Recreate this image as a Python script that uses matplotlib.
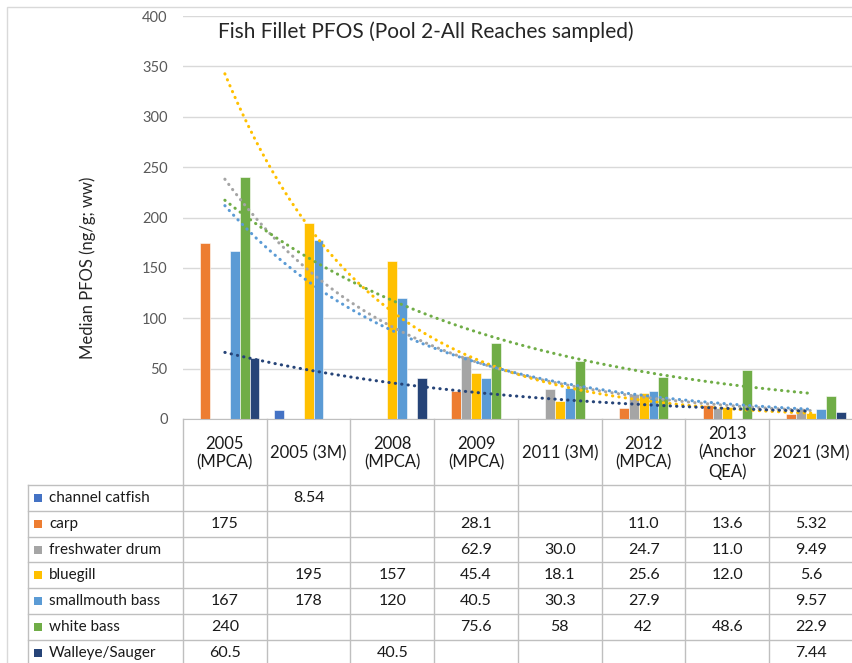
import numpy as np
import matplotlib

matplotlib.use("Agg")

import matplotlib.pyplot as plt
from matplotlib.lines import Line2D
from matplotlib.patches import Rectangle
from matplotlib.transforms import blended_transform_factory

plt.rcParams["font.family"] = ["Lato", "DejaVu Sans"]

# data (table values as printed in the chart)
categories = ["2005\n(MPCA)", "2005 (3M)", "2008\n(MPCA)", "2009\n(MPCA)",
              "2011 (3M)", "2012\n(MPCA)", "2013\n(Anchor\nQEA)", "2021 (3M)"]
species = ["channel catfish", "carp", "freshwater drum", "bluegill",
           "smallmouth bass", "white bass", "Walleye/Sauger"]
channel_catfish = ["", "8.54", "", "", "", "", "", ""]
carp = ["175", "", "", "28.1", "", "11.0", "13.6", "5.32"]
freshwater_drum = ["", "", "", "62.9", "30.0", "24.7", "11.0", "9.49"]
bluegill = ["", "195", "157", "45.4", "18.1", "25.6", "12.0", "5.6"]
smallmouth_bass = ["167", "178", "120", "40.5", "30.3", "27.9", "", "9.57"]
white_bass = ["240", "", "", "75.6", "58", "42", "48.6", "22.9"]
walleye_sauger = ["60.5", "", "40.5", "", "", "", "", "7.44"]
series = [channel_catfish, carp, freshwater_drum, bluegill,
          smallmouth_bass, white_bass, walleye_sauger]
has_trend = [False, False, True, True, True, True, True]
colors = ["#4472C4", "#ED7D31", "#A5A5A5", "#FFC000",
          "#5B9BD5", "#70AD47", "#264478"]

W, H = 853, 663
fig = plt.figure(figsize=(W / 100, H / 100), dpi=100)


def fx(px):
    return px / W


def fy(py):
    return 1 - py / H


ax = fig.add_axes([fx(183), fy(419), fx(853 - 183), (419 - 16) / H])
n_cat = len(categories)
n_ser = len(series)
bw = 1 / (n_ser + 1.5)
x = np.arange(n_cat)

for k, (vals, col) in enumerate(zip(series, colors)):
    v = np.array([float(s) if s else np.nan for s in vals])
    off = -0.5 + 0.75 * bw + (k + 0.5) * bw
    ax.bar(x + off, np.nan_to_num(v), width=bw, color=col,
           edgecolor="white", linewidth=0.4, zorder=2)

# exponential trendlines (Excel style, x = 1..n)
for k, (vals, col) in enumerate(zip(series, colors)):
    if not has_trend[k]:
        continue
    v = np.array([float(s) if s else np.nan for s in vals])
    m = ~np.isnan(v)
    b, a = np.polyfit(x[m] + 1, np.log(v[m]), 1)
    xs = np.linspace(0, n_cat - 1, 300)
    ax.plot(xs, np.exp(a + b * (xs + 1)), color=col, lw=2.2,
            linestyle=(0, (0.1, 2.0)), dash_capstyle="round", zorder=3)

ax.set_xlim(-0.5, n_cat - 0.5)
ax.set_ylim(0, 400)
ax.set_yticks(range(0, 401, 50))
ax.set_xticks([])
ax.tick_params(axis="y", length=0, pad=11, labelsize=10.5, labelcolor="#595959")
ax.yaxis.grid(True, color="#D9D9D9", lw=1)
ax.set_axisbelow(True)
for s in ["top", "right", "left"]:
    ax.spines[s].set_visible(False)
ax.spines["bottom"].set_color("#BFBFBF")

fig.text(fx(218), fy(32), "Fish Fillet PFOS (Pool 2-All Reaches sampled)",
         fontsize=15, color="#262626", va="center", ha="left")
fig.text(fx(88), fy(268), "Median PFOS (ng/g; ww)", rotation=90,
         fontsize=12, color="#262626", va="center", ha="center")

# outer chart border
fig.add_artist(Rectangle((fx(7), fy(700)), fx(860), (700 - 7) / H,
                         transform=fig.transFigure, fill=False,
                         ec="#D9D9D9", lw=1))

# data table
trans = blended_transform_factory(ax.transData, fig.transFigure)
line_c = "#BFBFBF"
top, head_bot, row_h = 419, 485, 25.8
bottom = 700

for b in np.arange(n_cat) + 0.5:
    fig.add_artist(Line2D([b, b], [fy(top), fy(bottom)], transform=trans,
                          color=line_c, lw=1))
for px in (28, 183):
    y0 = head_bot if px == 28 else top
    fig.add_artist(Line2D([fx(px), fx(px)], [fy(y0), fy(bottom)],
                          transform=fig.transFigure, color=line_c, lw=1))
for i in range(n_ser + 1):
    py = head_bot + i * row_h
    fig.add_artist(Line2D([fx(28), 1], [fy(py), fy(py)],
                          transform=fig.transFigure, color=line_c, lw=1))

for j, lab in enumerate(categories):
    fig.text(j, fy((top + head_bot) / 2 + 1), lab, transform=trans,
             ha="center", va="center", fontsize=12, color="#1a1a1a",
             linespacing=1.2)

for i, (name, vals, col) in enumerate(zip(species, series, colors)):
    cy = head_bot + (i + 0.5) * row_h
    fig.add_artist(Rectangle((fx(34), fy(cy + 4)), fx(8), 8 / H,
                             transform=fig.transFigure, color=col, lw=0))
    fig.text(fx(49), fy(cy), name, ha="left", va="center", fontsize=11,
             color="#1a1a1a")
    for j, s in enumerate(vals):
        if s:
            fig.text(j, fy(cy), s, transform=trans, ha="center", va="center",
                     fontsize=11.5, color="#1a1a1a")

fig.savefig("out.png", dpi=100)
